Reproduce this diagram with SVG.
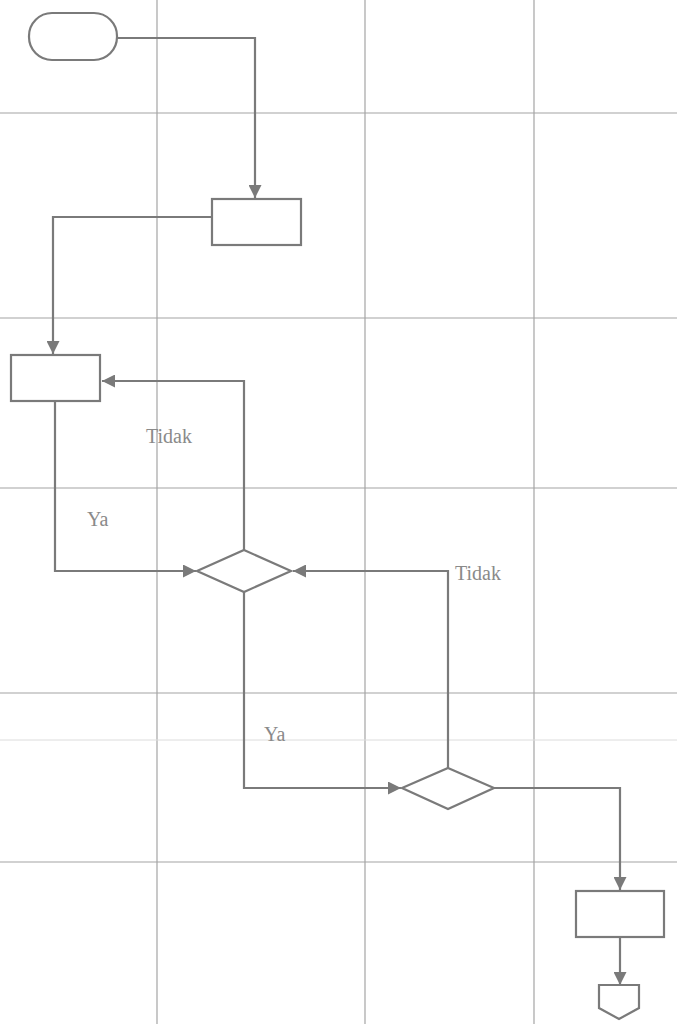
<svg xmlns="http://www.w3.org/2000/svg" width="677" height="1024" viewBox="0 0 677 1024">
<defs>
<marker id="ah" markerWidth="13" markerHeight="13" refX="13" refY="6.5" orient="auto" markerUnits="userSpaceOnUse">
<path d="M0,0 L13,6.5 L0,13 Z" fill="#7a7a7a"/>
</marker>
<style>
.grid{stroke:#a4a4a4;stroke-width:1.2;fill:none}
.faint{stroke:#dcdcdc;stroke-width:1;fill:none}
.shape{fill:#fff;stroke:#7a7a7a;stroke-width:2.2}
.conn{fill:none;stroke:#7a7a7a;stroke-width:2.2;marker-end:url(#ah)}
.lbl{font-family:"Liberation Serif",serif;font-size:20px;fill:#8a8a8a}
</style>
</defs>
<rect width="677" height="1024" fill="#fff"/>
<g id="grid">
<line class="grid" x1="157" y1="0" x2="157" y2="1024"/>
<line class="grid" x1="365" y1="0" x2="365" y2="1024"/>
<line class="grid" x1="534" y1="0" x2="534" y2="1024"/>
<line class="grid" x1="0" y1="113" x2="677" y2="113"/>
<line class="grid" x1="0" y1="318" x2="677" y2="318"/>
<line class="grid" x1="0" y1="488" x2="677" y2="488"/>
<line class="grid" x1="0" y1="693" x2="677" y2="693"/>
<line class="faint" x1="0" y1="740" x2="677" y2="740"/>
<line class="grid" x1="0" y1="862" x2="677" y2="862"/>
</g>
<g id="connectors">
<path class="conn" d="M117,38 H255 V198"/>
<path class="conn" d="M212,217 H53 V354"/>
<path class="conn" d="M55,401 V571 H196"/>
<path class="conn" d="M244,550 V381 H102"/>
<path class="conn" d="M244,592 V788 H401"/>
<path class="conn" d="M448,768 V571 H293"/>
<path class="conn" d="M494,788 H620 V890"/>
<path class="conn" d="M620,937 V985"/>
</g>
<g id="start"><rect class="shape" x="29" y="13" width="88" height="47" rx="23" ry="23"/></g>
<g id="process1"><rect class="shape" x="212" y="199" width="89" height="46"/></g>
<g id="process2"><rect class="shape" x="11" y="355" width="89" height="46"/></g>
<g id="decision1"><polygon class="shape" points="244,550 291,571 244,592 197,571"/></g>
<g id="decision2"><polygon class="shape" points="448,768 494,788 448,809 402,788"/></g>
<g id="process3"><rect class="shape" x="576" y="891" width="88" height="46"/></g>
<g id="offpage"><polygon class="shape" points="599,985 639,985 639,1008 619,1019 599,1008"/></g>
<g id="labels">
<text class="lbl" x="146" y="443">Tidak</text>
<text class="lbl" x="87" y="526">Ya</text>
<text class="lbl" x="455" y="580">Tidak</text>
<text class="lbl" x="264" y="741">Ya</text>
</g>
</svg>
